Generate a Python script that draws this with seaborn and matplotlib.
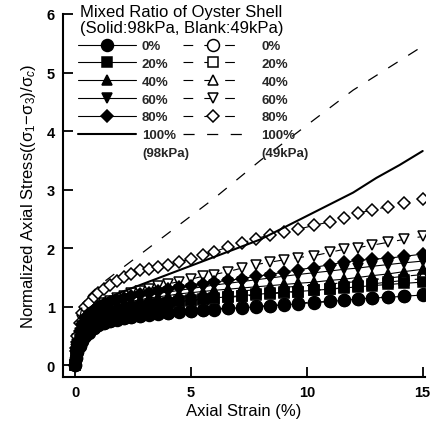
import matplotlib
matplotlib.use("Agg")
import matplotlib.pyplot as plt
from matplotlib.lines import Line2D
import seaborn as sns
import pandas as pd

# Axial strain (%) at which each mixed-ratio test was sampled
strain = [0, 0.05, 0.1, 0.2, 0.3, 0.45, 0.6, 0.8, 1.0, 1.25, 1.5, 1.8, 2.1, 2.4, 2.8,
          3.2, 3.6, 4.0, 4.5, 5.0, 5.5, 6.0, 6.6, 7.2, 7.8, 8.4, 9.0, 9.6, 10.3, 11.0,
          11.6, 12.2, 12.8, 13.5, 14.2, 15.0]

# Normalized axial stress, confining pressure 98 kPa (solid markers)
s0_98 = [0, 0.12, 0.22, 0.33, 0.42, 0.5, 0.56, 0.63, 0.68, 0.72, 0.75, 0.78, 0.8, 0.82, 0.84,
         0.86, 0.88, 0.89, 0.91, 0.92, 0.94, 0.95, 0.97, 0.98, 1.0, 1.01, 1.03, 1.05, 1.07, 1.09,
         1.11, 1.13, 1.15, 1.16, 1.18, 1.2]
s20_98 = [0, 0.17, 0.3, 0.45, 0.55, 0.64, 0.71, 0.77, 0.82, 0.86, 0.89, 0.92, 0.95, 0.98, 1.0,
          1.03, 1.05, 1.07, 1.09, 1.11, 1.13, 1.15, 1.17, 1.19, 1.21, 1.23, 1.25, 1.26, 1.28, 1.3,
          1.32, 1.34, 1.36, 1.38, 1.4, 1.42]
s40_98 = [0, 0.2, 0.34, 0.5, 0.62, 0.72, 0.79, 0.86, 0.91, 0.95, 0.99, 1.03, 1.06, 1.09, 1.12,
          1.15, 1.17, 1.19, 1.22, 1.24, 1.26, 1.28, 1.3, 1.32, 1.34, 1.36, 1.38, 1.4, 1.42, 1.45,
          1.47, 1.5, 1.53, 1.56, 1.6, 1.64]
s60_98 = [0, 0.22, 0.37, 0.55, 0.67, 0.77, 0.84, 0.9, 0.95, 1.0, 1.04, 1.08, 1.11, 1.14, 1.17,
          1.2, 1.23, 1.25, 1.28, 1.31, 1.34, 1.37, 1.4, 1.43, 1.46, 1.49, 1.52, 1.55, 1.58, 1.61,
          1.64, 1.66, 1.69, 1.72, 1.75, 1.78]
s80_98 = [0, 0.25, 0.4, 0.58, 0.7, 0.8, 0.87, 0.94, 0.99, 1.04, 1.08, 1.12, 1.15, 1.18, 1.21,
          1.24, 1.27, 1.3, 1.33, 1.36, 1.39, 1.42, 1.45, 1.48, 1.52, 1.55, 1.59, 1.63, 1.67, 1.72,
          1.76, 1.79, 1.81, 1.83, 1.86, 1.9]

# Normalized axial stress, confining pressure 49 kPa (open markers)
s0_49 = [0, 0.12, 0.22, 0.33, 0.42, 0.5, 0.57, 0.64, 0.69, 0.73, 0.76, 0.79, 0.81, 0.83, 0.85,
         0.87, 0.89, 0.9, 0.92, 0.93, 0.95, 0.96, 0.98, 0.99, 1.01, 1.02, 1.04, 1.06, 1.08, 1.09,
         1.11, 1.13, 1.15, 1.17, 1.19, 1.21]
s20_49 = [0, 0.17, 0.3, 0.44, 0.54, 0.63, 0.7, 0.76, 0.81, 0.85, 0.88, 0.91, 0.94, 0.97, 0.99,
          1.02, 1.04, 1.06, 1.08, 1.1, 1.12, 1.14, 1.16, 1.18, 1.2, 1.22, 1.24, 1.26, 1.28, 1.3,
          1.33, 1.36, 1.39, 1.42, 1.45, 1.48]
s40_49 = [0, 0.2, 0.33, 0.49, 0.6, 0.7, 0.77, 0.83, 0.88, 0.92, 0.96, 0.99, 1.02, 1.05, 1.08,
          1.1, 1.12, 1.14, 1.17, 1.19, 1.21, 1.23, 1.25, 1.27, 1.29, 1.31, 1.33, 1.35, 1.37, 1.39,
          1.41, 1.43, 1.46, 1.49, 1.52, 1.55]
s60_49 = [0, 0.28, 0.45, 0.65, 0.78, 0.88, 0.94, 0.99, 1.02, 1.07, 1.1, 1.15, 1.19, 1.23, 1.27,
          1.31, 1.35, 1.39, 1.43, 1.47, 1.52, 1.55, 1.6, 1.66, 1.72, 1.76, 1.8, 1.84, 1.87, 1.93,
          1.98, 2.01, 2.05, 2.1, 2.15, 2.2]
s80_49 = [0, 0.3, 0.5, 0.72, 0.9, 1.0, 1.06, 1.16, 1.24, 1.31, 1.37, 1.44, 1.51, 1.56, 1.62,
          1.65, 1.68, 1.72, 1.77, 1.81, 1.88, 1.94, 2.02, 2.09, 2.16, 2.23, 2.28, 2.32, 2.39, 2.45,
          2.52, 2.6, 2.65, 2.71, 2.77, 2.84]

# Pure oyster shell (100 %) curves
strain_100_98 = [0, 0.1, 0.3, 0.5, 1, 2, 3, 4, 5, 6, 7, 8, 9, 10, 11, 12, 13, 14, 15]
stress_100_98 = [0, 0.5, 0.8, 0.95, 1.08, 1.25, 1.4, 1.55, 1.7, 1.85, 2.0, 2.15, 2.35, 2.55,
                 2.75, 2.95, 3.2, 3.42, 3.66]
strain_100_49 = [0, 0.1, 0.3, 0.6, 1, 2, 3, 4, 5, 6, 8, 10, 12, 14, 15]
stress_100_49 = [0, 0.6, 1.0, 1.2, 1.35, 1.65, 1.95, 2.25, 2.55, 2.85, 3.5, 4.1, 4.7, 5.2, 5.45]

ratio_labels = ["0%", "20%", "40%", "60%", "80%"]
ratio_markers = ["o", "s", "^", "v", "D"]
marker_sizes = [8.6, 7.4, 7.6, 7.6, 6.6]
series_98 = [s0_98, s20_98, s40_98, s60_98, s80_98]
series_49 = [s0_49, s20_49, s40_49, s60_49, s80_49]

x_ticks = [0, 5, 10, 15]
y_ticks = [0, 1, 2, 3, 4, 5, 6]

sns.set_style("ticks")
plt.rcParams.update({
    "font.family": ["Liberation Sans", "DejaVu Sans"],
    "mathtext.fontset": "custom",
    "mathtext.rm": "Liberation Sans",
    "mathtext.it": "Liberation Sans:italic",
    "lines.scale_dashes": False,
    "xtick.direction": "in",
    "ytick.direction": "in",
})

fig = plt.figure(figsize=(4.34, 4.27), dpi=100)
ax = fig.add_axes([63 / 434, 1 - 378 / 427, (425 - 63) / 434, (378 - 15) / 427])

DASH = (0, (7, 8))


def draw_series(values, marker, size, face, label):
    df = pd.DataFrame({"strain": strain, "stress": values})
    sns.lineplot(data=df, x="strain", y="stress", ax=ax, color="black", linewidth=0.8,
                 marker=marker, markersize=size, markerfacecolor=face,
                 markeredgecolor="black", markeredgewidth=1.1, estimator=None, sort=False,
                 label=label)
    return ax.lines[-1]


# open (49 kPa) series underneath, solid (98 kPa) series on top
open_handles, filled_handles = [], []
for lab, mk, ms, y49 in zip(ratio_labels, ratio_markers, marker_sizes, series_49):
    ln = draw_series(y49, mk, ms, "white", lab)
    ln.set_linestyle(DASH)
    open_handles.append(ln)
for lab, mk, ms, y98 in zip(ratio_labels, ratio_markers, marker_sizes, series_98):
    filled_handles.append(draw_series(y98, mk, ms, "black", lab))

sns.lineplot(x=strain_100_98, y=stress_100_98, ax=ax, color="black", linewidth=1.5,
             estimator=None, sort=False, label="100%")
filled_handles.append(ax.lines[-1])
sns.lineplot(x=strain_100_49, y=stress_100_49, ax=ax, color="black", linewidth=0.9,
             estimator=None, sort=False, label="100%")
ax.lines[-1].set_linestyle((0, (8, 9)))
open_handles.append(ax.lines[-1])

leg = ax.get_legend()
if leg is not None:
    leg.remove()

ax.set_xlim(-0.52, 15.1)
ax.set_ylim(-0.2, 6.0)
ax.set_xticks(x_ticks)
ax.set_yticks(y_ticks)
ax.set_xticklabels([str(v) for v in x_ticks], fontsize=10.5, fontweight="bold")
ax.set_yticklabels([str(v) for v in y_ticks], fontsize=10.5, fontweight="bold")
ax.tick_params(length=7, width=1.3, colors="black", pad=6)
sns.despine(ax=ax)
for side in ("left", "bottom"):
    ax.spines[side].set_linewidth(1.5)
    ax.spines[side].set_color("black")

ax.set_xlabel("Axial Strain (%)", fontsize=12, color="black", labelpad=3)
ax.set_ylabel("Normalized Axial Stress((σ$_1$−σ$_3$)/σ$_c$)", fontsize=12, color="black",
              labelpad=6)

fig.text(80 / 434, 1 - 5 / 427, "Mixed Ratio of Oyster Shell\n(Solid:98kPa, Blank:49kPa)",
         fontsize=12, va="top", ha="left", linespacing=1.05, color="black")

# blank-handle row carries the confining pressure under the 100% entry
blank = Line2D([], [], linestyle="none")
legend_font = {"size": 9.5, "weight": "bold"}
common = dict(loc="upper left", bbox_transform=fig.transFigure, frameon=False, numpoints=1,
              labelspacing=0.42, borderpad=0, borderaxespad=0, prop=legend_font)
leg1 = ax.legend(filled_handles + [blank], ratio_labels + ["100%", "(98kPa)"],
                 bbox_to_anchor=(78 / 434, 1 - 41 / 427), handlelength=4.4,
                 handletextpad=0.45, **common)
ax.add_artist(leg1)
ax.legend(open_handles + [blank], ratio_labels + ["100%", "(49kPa)"],
          bbox_to_anchor=(183 / 434, 1 - 41 / 427), handlelength=4.6,
          handletextpad=1.35, **common)

fig.savefig("out.png", dpi=100)
